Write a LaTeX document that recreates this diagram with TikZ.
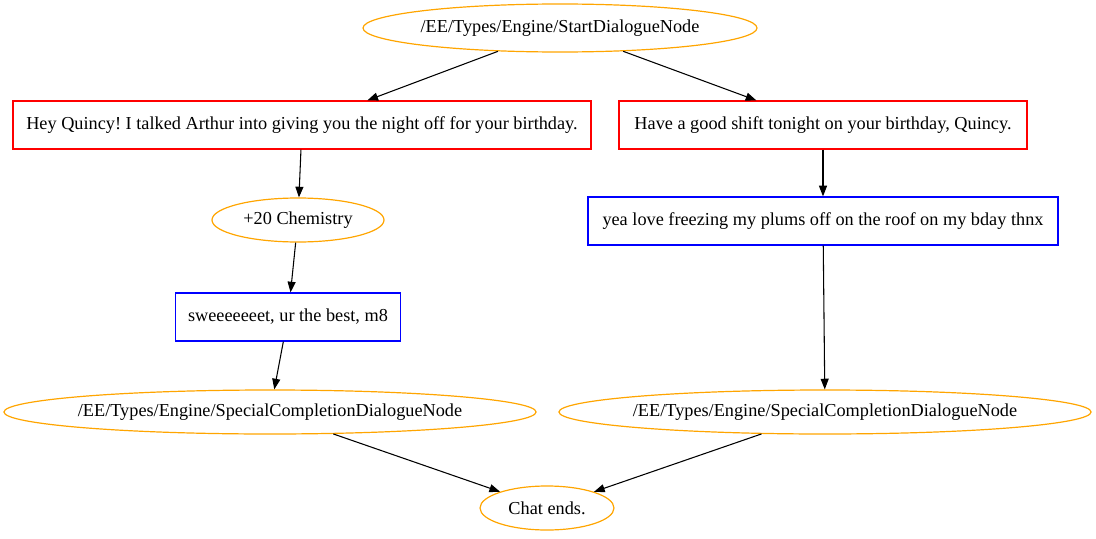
\documentclass[tikz,border=0pt]{standalone}
\usepackage{fontspec}
\setmainfont{Liberation Serif}
\frenchspacing
\usetikzlibrary{arrows.meta, shapes.geometric}
\definecolor{gvorange}{HTML}{FFA500}
\definecolor{gvred}{HTML}{FF0000}
\definecolor{gvblue}{HTML}{0000FF}

\begin{document}
\begin{tikzpicture}[x=0.75pt, y=-0.75pt, >={Triangle[length=8pt, width=6pt]},
    every node/.style={font=\fontsize{13.7}{16}\selectfont, line width=0.9pt},
    event/.style={ellipse, draw=gvorange, inner xsep=-3pt, inner ysep=0pt},
    talk/.style={rectangle, draw=gvred, minimum height=36pt, inner xsep=8pt},
    reply/.style={rectangle, draw=gvblue, minimum height=36pt, inner xsep=8pt}]
    \useasboundingbox (0,0) rectangle (1096,539);

    \node[event, minimum width=295.5pt, minimum height=36pt] (start) at (560,28) {/EE/Types/Engine/StartDialogueNode};
    \node[talk, minimum width=433.5pt] (hey) at (302,125) {Hey Quincy! I talked Arthur into giving you the night off for your birthday.};
    \node[talk, minimum width=306pt] (have) at (823,125) {Have a good shift tonight on your birthday, Quincy.};
    \node[event, minimum width=129pt, minimum height=33pt] (chem) at (298,220) {+20 Chemistry};
    \node[reply, minimum width=352.5pt] (yea) at (823,221) {yea love freezing my plums off on the roof on my bday thnx};
    \node[reply, minimum width=168.75pt] (sweet) at (288,317) {sweeeeeeet, ur the best, m8};
    \node[event, minimum width=397.5pt, minimum height=33pt] (end1) at (270,412) {/EE/Types/Engine/SpecialCompletionDialogueNode};
    \node[event, minimum width=397.5pt, minimum height=33pt] (end2) at (825,412) {/EE/Types/Engine/SpecialCompletionDialogueNode};
    \node[event, minimum width=100.5pt, minimum height=33pt] (chat) at (547,508) {Chat ends.};

    \path[->, line width=0.8pt]
    (start) edge (hey)
    (start) edge (have)
    (hey) edge (chem)
    (chem) edge (sweet)
    (sweet) edge (end1)
    (have) edge (yea)
    (yea) edge (end2)
    (end1) edge (chat)
    (end2) edge (chat);

\end{tikzpicture}
\end{document}
